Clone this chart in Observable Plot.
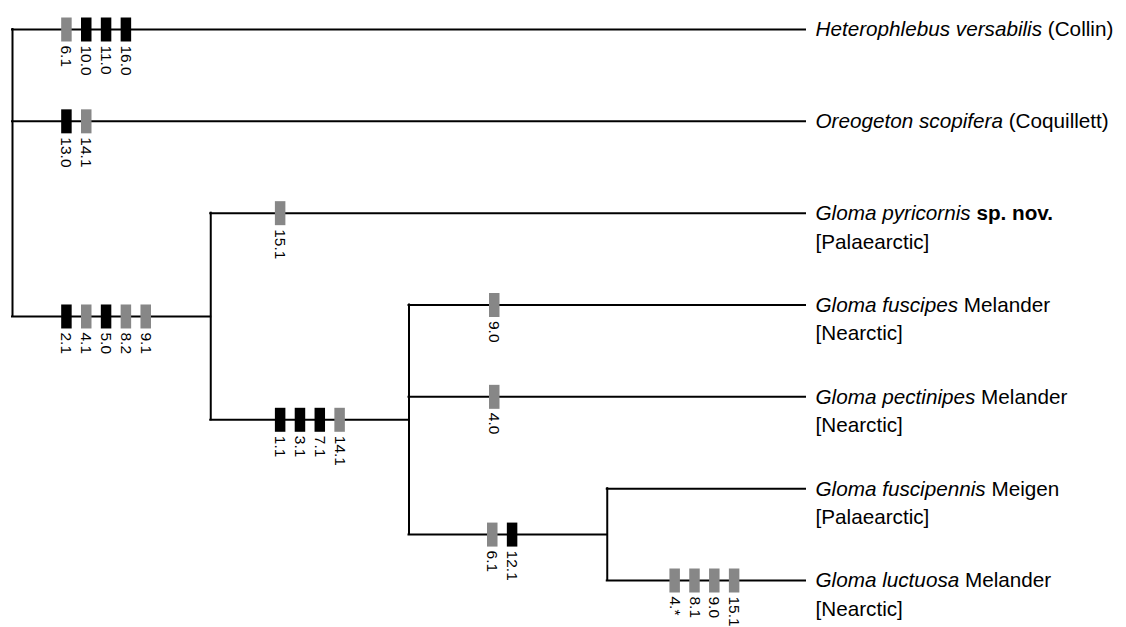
<!DOCTYPE html>
<html><head><meta charset="utf-8">
<script src="https://cdn.jsdelivr.net/npm/d3@7"></script>
<script src="https://cdn.jsdelivr.net/npm/@observablehq/plot@0.6"></script>
<style>body{margin:0;background:#fff}svg{display:block}</style>
</head><body><div id="chart"></div>
<script>
// ---- data ----
const tipNames = ["Heterophlebus versabilis","Oreogeton scopifera","Gloma pyricornis","Gloma fuscipes","Gloma pectinipes","Gloma fuscipennis","Gloma luctuosa"];
const tipAuthors = ["(Collin)","(Coquillett)","sp. nov.","Melander","Melander","Meigen","Melander"];
const tipAuthorBold = [false,false,true,false,false,false,false];
const tipRegions = ["","","[Palaearctic]","[Nearctic]","[Nearctic]","[Palaearctic]","[Nearctic]"];
const tipParents = ["root","root","G1","G2","G2","G3","G3"];
const nodeIds = ["root","G1","G2","G3"];
const nodeParents = [null,"root","G1","G2"];

const charBranch = [
  "Heterophlebus versabilis","Heterophlebus versabilis","Heterophlebus versabilis","Heterophlebus versabilis",
  "Oreogeton scopifera","Oreogeton scopifera",
  "G1","G1","G1","G1","G1",
  "Gloma pyricornis",
  "G2","G2","G2","G2",
  "Gloma fuscipes",
  "Gloma pectinipes",
  "G3","G3",
  "Gloma luctuosa","Gloma luctuosa","Gloma luctuosa","Gloma luctuosa"];
const charState = [
  "6.1","10.0","11.0","16.0",
  "13.0","14.1",
  "2.1","4.1","5.0","8.2","9.1",
  "15.1",
  "1.1","3.1","7.1","14.1",
  "9.0",
  "4.0",
  "6.1","12.1",
  "4.*","8.1","9.0","15.1"];
const charType = [
  "homoplastic","unique","unique","unique",
  "unique","homoplastic",
  "unique","homoplastic","unique","homoplastic","homoplastic",
  "homoplastic",
  "unique","unique","unique","homoplastic",
  "homoplastic",
  "homoplastic",
  "homoplastic","unique",
  "homoplastic","homoplastic","homoplastic","homoplastic"];

// ---- layout config (where along a branch the character bars start) ----
const charStart = {"Heterophlebus versabilis":0.272,"Oreogeton scopifera":0.272,G1:0.272,"Gloma pyricornis":0.35,G2:0.35,"Gloma fuscipes":0.43,"Gloma pectinipes":0.43,G3:0.42,"Gloma luctuosa":0.34};
const charStep = 0.1;
const GRAY = "#878787";
const FONT = "'Liberation Sans', Arial, Helvetica, sans-serif";

// ---- cladogram layout (cluster style) ----
const parent = new Map();
tipNames.forEach((n,i)=>parent.set(n,tipParents[i]));
nodeIds.forEach((n,i)=>parent.set(n,nodeParents[i]));
const children = new Map(nodeIds.map(n=>[n,[]]));
[...tipNames, ...nodeIds].forEach(n=>{const p=parent.get(n); if(p) children.get(p).push(n);});
const depth = new Map();
function d(n){ if(depth.has(n)) return depth.get(n); const p=parent.get(n); const v = p==null?0:d(p)+1; depth.set(n,v); return v; }
nodeIds.forEach(d);
const maxDepth = d3.max(nodeIds, n=>depth.get(n)) + 1;
const X = new Map(), Y = new Map();
tipNames.forEach((n,i)=>{X.set(n,maxDepth); Y.set(n,i);});
function yOf(n){ if(Y.has(n)) return Y.get(n); const c=children.get(n); const v=(yOf(c[0])+yOf(c[c.length-1]))/2; Y.set(n,v); return v; }
nodeIds.forEach(n=>{X.set(n,depth.get(n)); yOf(n);});

const branches = [...tipNames, ...nodeIds].filter(n=>parent.get(n)).map(n=>({id:n, y:Y.get(n), x1:X.get(parent.get(n)), x2:X.get(n)}));
const verticals = nodeIds.map(n=>{const c=children.get(n); return {id:n, x:X.get(n), y1:Y.get(c[0]), y2:Y.get(c[c.length-1])};});
const counter = new Map();
const chars = charState.map((s,i)=>{
  const b=charBranch[i]; const k=counter.get(b)||0; counter.set(b,k+1);
  return {state:s, type:charType[i], x:X.get(parent.get(b))+charStart[b]+k*charStep, y:Y.get(b)};
});
const tips = tipNames.map((n,i)=>({name:n, x:X.get(n), y:Y.get(n), label:n+" "+tipAuthors[i]}));

const barSymbol = {draw(ctx){ ctx.rect(-5.25,-12,10.5,24); }};

const svg = Plot.plot({
  width:1126, height:627,
  style:{background:"#fff", fontFamily:FONT, color:"#000"},
  x:{domain:[0,maxDepth], range:[12,805], axis:null},
  y:{domain:[0,tipNames.length-1], range:[29,580], axis:null},
  color:{domain:["homoplastic","unique"], range:[GRAY,"#000"]},
  marks:[
    Plot.ruleY(branches,{y:"y", x1:"x1", x2:"x2", stroke:"#000", strokeWidth:2, strokeLinecap:"square"}),
    Plot.ruleX(verticals,{x:"x", y1:"y1", y2:"y2", stroke:"#000", strokeWidth:2, strokeLinecap:"square"}),
    Plot.dot(chars,{x:"x", y:"y", fill:"type", symbol:barSymbol, stroke:"none"}),
    Plot.text(chars,{x:"x", y:"y", text:"state", rotate:90, textAnchor:"start", lineAnchor:"middle", dy:16, fontSize:15.5, fill:"#000"}),
    Plot.text(tips,{x:"x", y:"y", text:"label", textAnchor:"start", lineAnchor:"middle", dx:10, fontSize:20.7, fill:"#000"})
  ]
});

// rich text for tip labels (italic genus/species, bold "sp. nov.", region on second line)
const NS = "http://www.w3.org/2000/svg";
svg.querySelectorAll("text").forEach(t=>{
  const i = tips.findIndex(tp=>t.textContent===tp.label);
  if(i<0) return;
  const lx = t.getAttribute("x") || 0;
  t.removeAttribute("dy"); t.removeAttribute("y");
  while(t.firstChild) t.removeChild(t.firstChild);
  const lines = [[{s:tipNames[i], italic:true},{s:" "+tipAuthors[i], bold:tipAuthorBold[i]}]];
  if(tipRegions[i]) lines.push([{s:tipRegions[i]}]);
  lines.forEach((segs,j)=>{
    const line = document.createElementNS(NS,"tspan");
    line.setAttribute("x", lx);
    line.setAttribute("dy", j===0 ? "0.33em" : "1.38em");
    segs.forEach(seg=>{
      const sp = document.createElementNS(NS,"tspan");
      sp.textContent = seg.s;
      if(seg.italic) sp.setAttribute("font-style","italic");
      if(seg.bold) sp.setAttribute("font-weight","bold");
      line.appendChild(sp);
    });
    t.appendChild(line);
  });
});
document.getElementById("chart").appendChild(svg);
</script></body></html>
